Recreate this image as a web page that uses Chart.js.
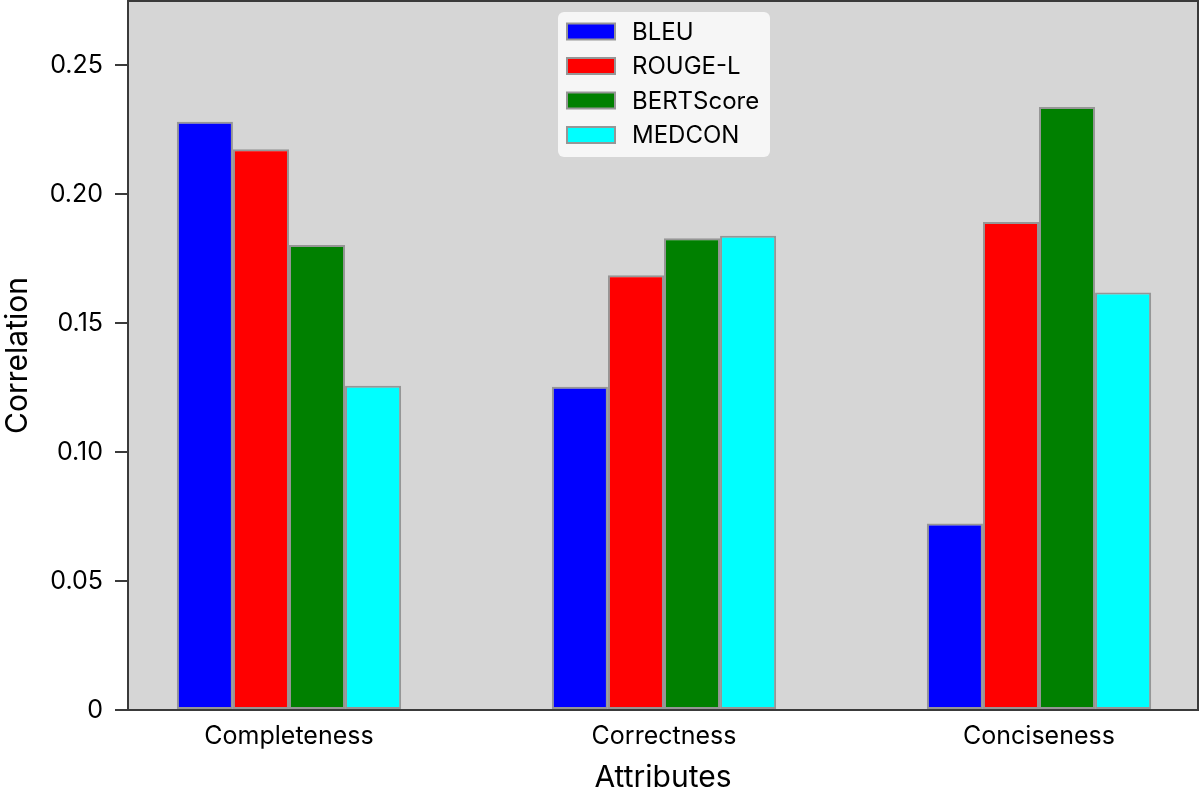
<!DOCTYPE html>
<html>
<head>
<meta charset="utf-8">
<script src="https://cdn.jsdelivr.net/npm/chart.js@4.4.0/dist/chart.umd.min.js"></script>
<style>
html,body{margin:0;padding:0;background:#fff;}
#wrap{width:1200px;height:791px;position:relative;}
</style>
</head>
<body>
<div id="wrap"><canvas id="c" width="1200" height="791"></canvas></div>
<script>
const categories = ["Completeness", "Correctness", "Conciseness"];
const seriesNames = ["BLEU", "ROUGE-L", "BERTScore", "MEDCON"];
const bleu = [0.228, 0.1253, 0.0723];
const rougeL = [0.2173, 0.1685, 0.1891];
const bertScore = [0.1802, 0.1828, 0.2337];
const medcon = [0.1257, 0.1838, 0.1618];
const yTicks = [0, 0.05, 0.10, 0.15, 0.20, 0.25];
const colors = ["#0000ff", "#ff0000", "#008000", "#00ffff"];

const FONT = "Inter, 'Noto Sans', sans-serif";
const allSeries = [bleu, rougeL, bertScore, medcon];

const datasets = allSeries.map((vals, i) => ({
  label: seriesNames[i],
  data: vals.map((v, j) => ({x: j, y: v})),
  backgroundColor: colors[i],
  borderColor: "#969696",
  borderWidth: 2,
  borderSkipped: false,
  categoryPercentage: 0.598,
  barPercentage: 1.0
}));

const framePlugin = {
  id: 'frame',
  beforeDatasetsDraw(chart) {
    const {ctx, chartArea: a} = chart;
    ctx.save();
    ctx.fillStyle = "#d6d6d6";
    ctx.fillRect(a.left, a.top, a.right - a.left, a.bottom - a.top);
    ctx.restore();
  },
  afterDatasetsDraw(chart) {
    const {ctx, chartArea: a} = chart;
    ctx.save();
    ctx.strokeStyle = "#3a3a3a";
    ctx.lineWidth = 2;
    ctx.strokeRect(a.left, a.top, a.right - a.left, a.bottom - a.top);
    ctx.restore();
  },
  afterDraw(chart) {
    const {ctx} = chart;
    const x0 = 558, y0 = 12, w = 212, h = 145, r = 6;
    ctx.save();
    ctx.fillStyle = "rgba(248,248,248,0.95)";
    ctx.beginPath();
    ctx.moveTo(x0 + r, y0);
    ctx.arcTo(x0 + w, y0, x0 + w, y0 + h, r);
    ctx.arcTo(x0 + w, y0 + h, x0, y0 + h, r);
    ctx.arcTo(x0, y0 + h, x0, y0, r);
    ctx.arcTo(x0, y0, x0 + w, y0, r);
    ctx.closePath();
    ctx.fill();
    chart.data.datasets.forEach((ds, i) => {
      const cy = 31.5 + i * 34.5;
      ctx.fillStyle = ds.backgroundColor;
      ctx.strokeStyle = "#969696";
      ctx.lineWidth = 2;
      ctx.fillRect(567, cy - 8, 48, 16);
      ctx.strokeRect(567, cy - 8, 48, 16);
      ctx.fillStyle = "#000";
      ctx.font = "24px " + FONT;
      ctx.textBaseline = "middle";
      ctx.textAlign = "left";
      ctx.fillText(ds.label, 632, cy + 1);
    });
    ctx.restore();
  }
};

new Chart(document.getElementById('c'), {
  type: 'bar',
  data: { datasets },
  plugins: [framePlugin],
  options: {
    responsive: false,
    animation: false,
    devicePixelRatio: 1,
    layout: { padding: { top: 1, right: 2, left: 0, bottom: 0 } },
    plugins: { legend: { display: false }, tooltip: { enabled: false } },
    scales: {
      x: {
        type: 'linear',
        min: -0.4293,
        max: 2.424,
        offset: false,
        afterBuildTicks(scale) { scale.ticks = categories.map((c, i) => ({value: i})); },
        afterFit(scale) { scale.height = 81; scale.paddingLeft = 0; scale.paddingRight = 0; },
        ticks: {
          callback: (v) => categories[v] ?? '',
          color: "#000",
          font: { family: FONT, size: 25 },
          padding: 11,
          maxRotation: 0,
          autoSkip: false
        },
        grid: { display: true, drawOnChartArea: false, drawTicks: false, tickLength: 0 },
        border: { display: false },
        title: {
          display: true,
          text: "Attributes",
          color: "#000",
          font: { family: FONT, size: 30, lineHeight: 0.85 },
          padding: { top: 4, bottom: 0 }
        }
      },
      y: {
        min: 0,
        max: 0.2748,
        afterBuildTicks(scale) { scale.ticks = yTicks.map(v => ({value: v})); },
        afterFit(scale) { scale.width = 128; scale.paddingTop = 0; scale.paddingBottom = 0; },
        ticks: {
          callback: (v) => v === 0 ? '0' : v.toFixed(2),
          color: "#000",
          font: { family: FONT, size: 25 },
          padding: 12
        },
        grid: { display: true, drawOnChartArea: false, drawTicks: true, tickLength: 13, color: "#3a3a3a", lineWidth: 2 },
        border: { display: false },
        title: {
          display: true,
          text: "Correlation",
          color: "#000",
          font: { family: FONT, size: 30 },
          padding: { top: 0, bottom: 0 }
        }
      }
    }
  }
});
</script>
</body>
</html>
